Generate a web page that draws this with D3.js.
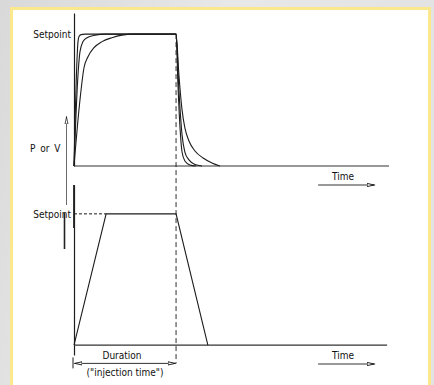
<!DOCTYPE html>
<html>
<head>
<meta charset="utf-8">
<script src="https://cdn.jsdelivr.net/npm/d3@7"></script>
<style>
  html, body { margin: 0; padding: 0; background: #e4e4e4; }
  svg { display: block; }
  text { font-family: "DejaVu Sans Condensed", "Liberation Sans Narrow", sans-serif; font-stretch: condensed; fill: #111; }
</style>
</head>
<body>
<div id="chart"></div>
<script>
// time in % of the plotted window, value in % of setpoint
const fastT = [0, 0.95, 1.27, 1.59, 2.22, 3.49, 32.4, 33.0, 33.7, 34.3, 35.2, 36.8, 38.7];
const fastV = [0, 80.6, 94.3, 98.1, 99.6, 100, 100, 61.6, 27.4, 10.6, 3.8, 0.8, 0];
const midT = [0, 1.27, 1.9, 2.86, 4.13, 6.67, 9.84, 32.4, 33.3, 34.3, 35.2, 36.5, 38.4, 40.6];
const midV = [0, 69.2, 86.7, 94.3, 97.3, 99.2, 100, 100, 57.8, 23.6, 10.6, 4.6, 1.1, 0];
const slowT = [0, 1.9, 3.17, 4.44, 6.35, 8.89, 12.06, 15.24, 18.4, 32.4, 33.3, 34.3, 35.2, 36.5, 38.4, 41.0, 43.8, 46.3];
const slowV = [0, 50.2, 74.5, 82.9, 89.7, 94.3, 97.3, 99.2, 100, 100, 69.2, 42.6, 28.9, 19.0, 11.4, 6.1, 2.3, 0];
const rampT = [0, 10.2, 32.4, 42.5];
const rampV = [0, 100, 100, 0];
const setpoint = 100;
const injectionEnd = 32.4;
const labels = { setpoint: "Setpoint", yAxis: "P or V", time: "Time", duration: "Duration", note: "(\"injection time\")" };

const W = 434, H = 385;
const zip = (t, v) => t.map((d, i) => ({ t: d, v: v[i] }));

const svg = d3.select("#chart").append("svg").attr("width", W).attr("height", H);

// backdrop
const defs = svg.append("defs");
const grad = defs.append("linearGradient").attr("id", "bg").attr("x1", 0).attr("y1", 0).attr("x2", 1).attr("y2", 0.3);
grad.append("stop").attr("offset", 0).attr("stop-color", "#d9d9d9");
grad.append("stop").attr("offset", 0.5).attr("stop-color", "#e8e8e8");
grad.append("stop").attr("offset", 1).attr("stop-color", "#e2e2e2");
svg.append("rect").attr("width", W).attr("height", H).attr("fill", "url(#bg)");
svg.append("rect").attr("x", 11.5).attr("y", 8.5).attr("width", 418).attr("height", 400)
    .attr("fill", "#fff").attr("stroke", "#fbe88c").attr("stroke-width", 3);

defs.append("marker").attr("id", "openHead").attr("viewBox", "0 -3 8 6")
    .attr("refX", 8).attr("refY", 0).attr("markerWidth", 8).attr("markerHeight", 6)
    .attr("markerUnits", "userSpaceOnUse").attr("orient", "auto-start-reverse")
    .append("path").attr("d", "M0,-1.6L7,0L0,1.6Z").attr("fill", "#fff").attr("stroke", "#111").attr("stroke-width", 0.9);
defs.append("marker").attr("id", "upHead").attr("viewBox", "0 -3 8 6")
    .attr("refX", 8).attr("refY", 0).attr("markerWidth", 8).attr("markerHeight", 6)
    .attr("markerUnits", "userSpaceOnUse").attr("orient", "auto")
    .append("path").attr("d", "M0,-1.5L7,0L0,1.5Z").attr("fill", "#fff").attr("stroke", "#222").attr("stroke-width", 0.8);

const x = d3.scaleLinear().domain([0, 100]).range([74, 389]);
const yTop = d3.scaleLinear().domain([0, 116]).range([166, 13]);
const yBot = d3.scaleLinear().domain([-7.6, 122]).range([355, 185]);

const ink = "#1c1c1c";

function drawAxis(y, xEnd, yLabel) {
    const g = svg.append("g").attr("transform", `translate(${x(0)},0)`)
        .call(d3.axisLeft(y).tickValues([setpoint]).tickFormat(() => labels.setpoint)
            .tickSize(0).tickSizeOuter(0).tickPadding(3));
    g.select(".domain").attr("stroke", ink).attr("stroke-width", 1.2);
    g.selectAll("text").attr("font-size", 10).attr("fill", "#111").attr("font-family", null);
    // baseline
    svg.append("line").attr("x1", x(0)).attr("x2", x(xEnd)).attr("y1", y(0)).attr("y2", y(0))
        .attr("stroke", "#333").attr("stroke-width", 1.2);
    // time label with arrow
    svg.append("text").attr("x", x(85.4)).attr("y", yLabel).attr("text-anchor", "middle")
        .attr("font-size", 10).text(labels.time);
    svg.append("line").attr("x1", x(77.5)).attr("x2", x(95.6)).attr("y1", yLabel + 5).attr("y2", yLabel + 5)
        .attr("stroke", ink).attr("stroke-width", 0.9).attr("marker-end", "url(#openHead)");
}

drawAxis(yTop, 100, 180);
drawAxis(yBot, 99.4, 359);

const line = (y) => d3.line().x(d => x(d.t)).y(d => y(d.v)).curve(d3.curveMonotoneX);

// top panel: three responses
[zip(slowT, slowV), zip(midT, midV), zip(fastT, fastV)].forEach(series => {
    svg.append("path").datum(series).attr("d", line(yTop))
        .attr("fill", "none").attr("stroke", ink).attr("stroke-width", 1.1);
});

// bottom panel: commanded profile
svg.append("path").datum(zip(rampT, rampV)).attr("d", d3.line().x(d => x(d.t)).y(d => yBot(d.v)))
    .attr("fill", "none").attr("stroke", ink).attr("stroke-width", 1.1);
svg.append("line").attr("x1", x(0)).attr("x2", x(rampT[1])).attr("y1", yBot(setpoint)).attr("y2", yBot(setpoint))
    .attr("stroke", ink).attr("stroke-width", 1).attr("stroke-dasharray", "3,2");

// injection end marker
svg.append("line").attr("x1", x(injectionEnd)).attr("x2", x(injectionEnd))
    .attr("y1", yTop(setpoint)).attr("y2", yBot(-14))
    .attr("stroke", ink).attr("stroke-width", 0.9).attr("stroke-dasharray", "5,3");

// P or V label and its axis strokes
svg.append("text").attr("x", 30).attr("y", 151.5).attr("font-size", 10).attr("word-spacing", 2).text(labels.yAxis);
svg.append("line").attr("x1", 66.5).attr("x2", 66.5).attr("y1", 205).attr("y2", 116)
    .attr("stroke", "#444").attr("stroke-width", 0.8).attr("marker-end", "url(#upHead)");
svg.append("line").attr("x1", 64.5).attr("x2", 64.5).attr("y1", 213).attr("y2", 249)
    .attr("stroke", "#222").attr("stroke-width", 1.6);
svg.append("line").attr("x1", x(0)).attr("x2", x(0)).attr("y1", 185).attr("y2", 228)
    .attr("stroke", "#222").attr("stroke-width", 1.8);

// duration dimension
const yDim = yBot(-14);
svg.append("line").attr("x1", x(0) - 1).attr("x2", x(0) - 1).attr("y1", yDim - 6).attr("y2", yDim + 5)
    .attr("stroke", ink).attr("stroke-width", 1);
svg.append("line").attr("x1", x(0)).attr("x2", x(injectionEnd)).attr("y1", yDim).attr("y2", yDim)
    .attr("stroke", ink).attr("stroke-width", 0.9)
    .attr("marker-start", "url(#openHead)").attr("marker-end", "url(#openHead)");
svg.append("text").attr("x", x(injectionEnd / 2) - 3).attr("y", yDim - 4).attr("text-anchor", "middle")
    .attr("font-size", 10).text(labels.duration);
svg.append("text").attr("x", x(injectionEnd / 2)).attr("y", yDim + 13).attr("text-anchor", "middle")
    .attr("font-size", 10).text(labels.note);
</script>
</body>
</html>
